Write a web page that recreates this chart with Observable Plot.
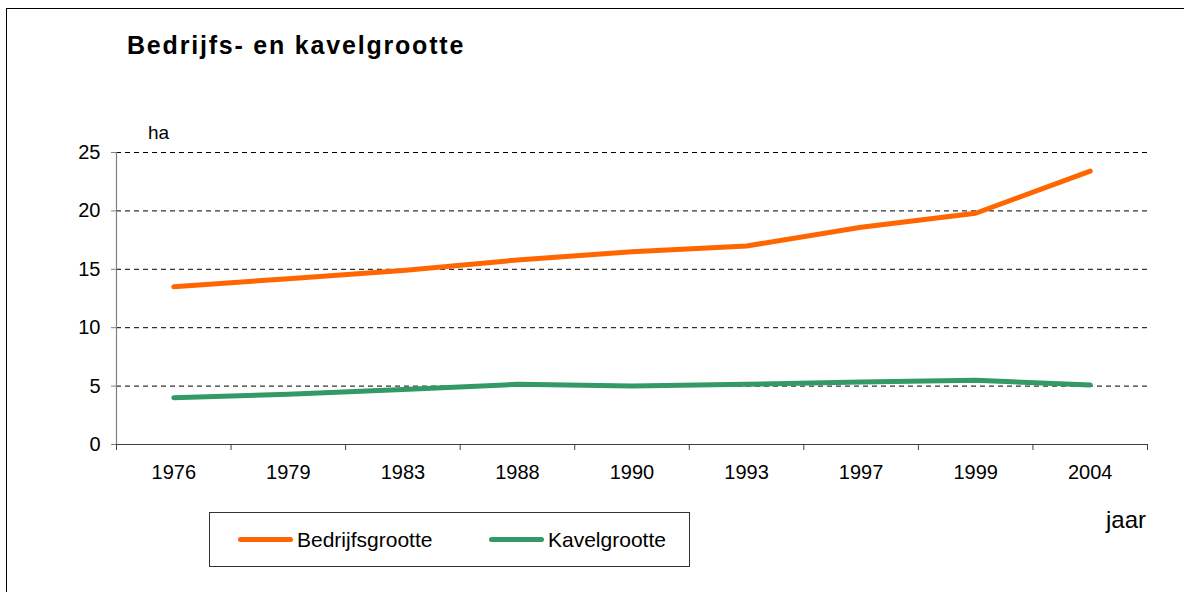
<!DOCTYPE html>
<html>
<head>
<meta charset="utf-8">
<script src="https://cdn.jsdelivr.net/npm/d3@7"></script>
<script src="https://cdn.jsdelivr.net/npm/@observablehq/plot@0.6"></script>
<style>
  body { margin: 0; background: #fff; font-family: "Liberation Sans", Arial, sans-serif; }
  #wrap { position: relative; width: 1184px; height: 592px; overflow: hidden; background: #fff; }
  #frame { position: absolute; left: 6px; top: 8px; width: 1200px; height: 620px; border-top: 1.5px solid #000; border-left: 1.5px solid #000; }
  #chart { position: absolute; left: 0; top: 0; }
  #title { position: absolute; left: 127px; top: 31px; font-weight: bold; font-size: 25px; letter-spacing: 1.8px; color: #000; white-space: nowrap; }
  #unit { position: absolute; left: 148px; top: 122px; font-size: 19px; color: #000; }
  #xlabel { position: absolute; left: 1106px; top: 506px; font-size: 24px; color: #000; }
  #legend { position: absolute; left: 209px; top: 512px; width: 481px; height: 55px; border: 1px solid #333; box-sizing: border-box; }
  .item { position: absolute; top: 0; height: 53px; display: flex; align-items: center; font-size: 21px; color: #000; }
  .sw { display: inline-block; width: 55px; height: 5px; border-radius: 3px; margin-right: 4px; }
</style>
</head>
<body>
<div id="wrap">
  <div id="frame"></div>
  <div id="chart"></div>
  <div id="title"></div>
  <div id="unit"></div>
  <div id="xlabel"></div>
  <div id="legend"></div>
</div>
<script>
const titleText = "Bedrijfs- en kavelgrootte";
const unitText = "ha";
const xLabelText = "jaar";
const years = ["1976", "1979", "1983", "1988", "1990", "1993", "1997", "1999", "2004"];
const bedrijfsgrootte = [13.5, 14.2, 14.9, 15.8, 16.5, 17.0, 18.6, 19.8, 23.4];
const kavelgrootte = [4.0, 4.3, 4.7, 5.15, 5.0, 5.15, 5.35, 5.5, 5.1];
const seriesNames = ["Bedrijfsgrootte", "Kavelgrootte"];
const seriesColors = ["#FF6600", "#339966"];
const yTicks = [0, 5, 10, 15, 20, 25];

const data = years.flatMap((yr, i) => [
  { i, year: yr, series: seriesNames[0], value: bedrijfsgrootte[i] },
  { i, year: yr, series: seriesNames[1], value: kavelgrootte[i] }
]);
const idx = d3.range(years.length);
const bounds = d3.range(years.length + 1).map(k => k - 0.5);

const chart = Plot.plot({
  width: 1184,
  height: 592,
  marginLeft: 116,
  marginRight: 37,
  marginTop: 152,
  marginBottom: 148,
  x: { type: "linear", domain: [-0.5, years.length - 0.5] },
  y: { domain: [0, 25] },
  color: { domain: seriesNames, range: seriesColors },
  style: { fontFamily: "Liberation Sans, Arial, sans-serif", fontSize: "20px", background: "transparent", color: "#000", overflow: "visible" },
  marks: [
    Plot.ruleY(yTicks.filter(d => d > 0), { stroke: "#000", strokeWidth: 1, strokeDasharray: "5,4" }),
    Plot.axisY({ ticks: yTicks, tickSize: 5, tickPadding: 11, tickFormat: d => String(d), label: null, stroke: "#808080", fill: "#000" }),
    Plot.ruleX([-0.5], { y1: 0, y2: 25, stroke: "#808080", strokeWidth: 1.2 }),
    Plot.axisX({ ticks: bounds, tickSize: 6, tickFormat: () => "", label: null, stroke: "#404040" }),
    Plot.axisX({ ticks: idx, tickSize: 0, tickPadding: 20, tickFormat: i => years[i], label: null, fill: "#000" }),
    Plot.ruleY([0], { stroke: "#404040", strokeWidth: 1.2 }),
    Plot.line(data, { x: "i", y: "value", z: "series", stroke: "series", strokeWidth: 5, strokeLinecap: "round", strokeLinejoin: "round" })
  ]
});
document.getElementById("chart").append(chart);
document.getElementById("title").textContent = titleText;
document.getElementById("unit").textContent = unitText;
document.getElementById("xlabel").textContent = xLabelText;

const legend = document.getElementById("legend");
const legendLeft = [28, 279];
seriesNames.forEach((name, k) => {
  const item = document.createElement("div");
  item.className = "item";
  item.style.left = legendLeft[k] + "px";
  const sw = document.createElement("span");
  sw.className = "sw";
  sw.style.background = seriesColors[k];
  const t = document.createElement("span");
  t.textContent = name;
  item.append(sw, t);
  legend.append(item);
});
</script>
</body>
</html>
